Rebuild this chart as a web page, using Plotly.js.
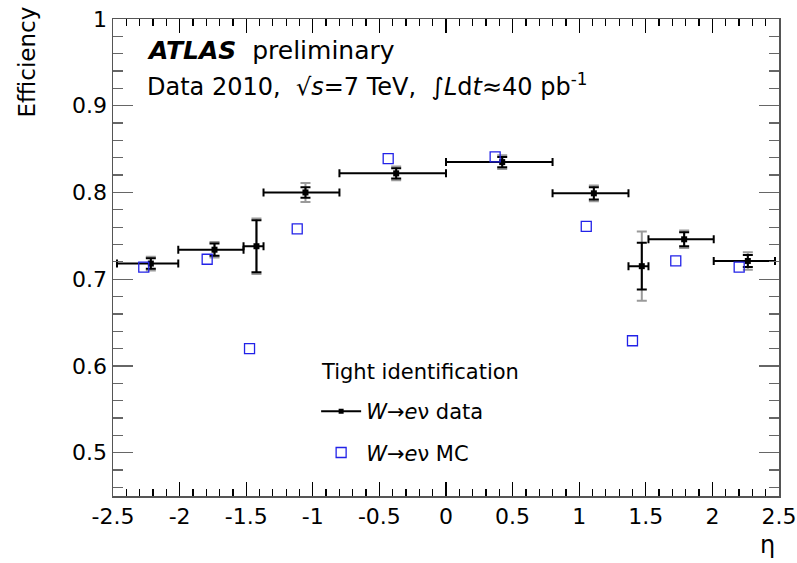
<!DOCTYPE html>
<html>
<head>
<meta charset="utf-8">
<script src="https://cdn.plot.ly/plotly-3.0.1.min.js"></script>
<style>body{margin:0;background:#fff;} #chart{width:797px;height:563px;}</style>
</head>
<body>
<div id="chart"></div>
<script>
// Bin edges in eta
const binLow  = [-2.47, -2.01, -1.52, -1.37, -0.80, 0.00, 0.80, 1.37, 1.52, 2.01];
const binHigh = [-2.01, -1.52, -1.37, -0.80, 0.00, 0.80, 1.37, 1.52, 2.01, 2.47];
// Data (W->e nu) points
const dataEta = [-2.216, -1.738, -1.423, -1.055, -0.374, 0.422, 1.110, 1.470, 1.788, 2.266];
const dataEff = [0.718, 0.734, 0.738, 0.800, 0.822, 0.835, 0.799, 0.715, 0.746, 0.721];
const dataStat = [0.006, 0.007, 0.030, 0.006, 0.006, 0.006, 0.007, 0.027, 0.008, 0.007];
const dataTot  = [0.008, 0.009, 0.032, 0.011, 0.008, 0.008, 0.009, 0.040, 0.010, 0.010];
// MC points
const mcEta = [-2.269, -1.793, -1.475, -1.117, -0.434, 0.369, 1.053, 1.400, 1.725, 2.201];
const mcEff = [0.714, 0.723, 0.620, 0.758, 0.839, 0.841, 0.761, 0.629, 0.721, 0.714];
// Tick labels
const xTickVals = [-2.5, -2, -1.5, -1, -0.5, 0, 0.5, 1, 1.5, 2, 2.5];
const xTickText = ['-2.5', '-2', '-1.5', '-1', '-0.5', '0', '0.5', '1', '1.5', '2', '2.5'];

const FONT = 'DejaVu Sans';
const exPlus = dataEta.map((x, i) => binHigh[i] - x);
const exMinus = dataEta.map((x, i) => x - binLow[i]);

const traces = [
  { // systematic (total) error, gray
    x: dataEta, y: dataEff, type: 'scatter', mode: 'markers',
    marker: {size: 1, color: 'rgba(0,0,0,0)'},
    error_y: {type: 'data', array: dataTot, visible: true, color: '#9a9a9a', thickness: 2, width: 5},
    showlegend: false, hoverinfo: 'skip'
  },
  { // data with stat errors
    x: dataEta, y: dataEff, type: 'scatter', mode: 'markers',
    marker: {size: 6, color: 'black', symbol: 'square'},
    error_x: {type: 'data', symmetric: false, array: exPlus, arrayminus: exMinus, visible: true, color: 'black', thickness: 2, width: 4},
    error_y: {type: 'data', array: dataStat, visible: true, color: 'black', thickness: 2, width: 5},
    showlegend: false
  },
  { // MC
    x: mcEta, y: mcEff, type: 'scatter', mode: 'markers',
    name: '<i>W</i>\u2192<i>e</i>\u03bd MC',
    marker: {size: 10, color: '#2222e8', symbol: 'square-open', line: {color: '#2222e8', width: 1.3}},
    legendgroup: 'b', legendrank: 2, showlegend: true
  },
  { // legend entry for data
    x: [null], y: [null], type: 'scatter', mode: 'lines+markers',
    name: '<i>W</i>\u2192<i>e</i>\u03bd data',
    line: {color: 'black', width: 2},
    marker: {size: 5, color: 'black', symbol: 'square'},
    legendgroup: 'a', legendrank: 1, showlegend: true
  }
];

const layout = {
  width: 797, height: 563,
  margin: {l: 113, r: 18, t: 19, b: 67},
  paper_bgcolor: 'white', plot_bgcolor: 'white',
  font: {family: FONT, color: 'black', size: 22},
  showlegend: true,
  legend: {
    x: 0.305, y: 0.220, xanchor: 'left', yanchor: 'top',
    bgcolor: 'rgba(0,0,0,0)', borderwidth: 0,
    font: {family: FONT, size: 21, color: 'black'},
    itemwidth: 40,
    traceorder: 'grouped', tracegroupgap: 11
  },
  xaxis: {
    range: [-2.5, 2.5], tickmode: 'array', tickvals: xTickVals, ticktext: xTickText,
    ticks: 'inside', ticklen: 14, tickwidth: 1.3, tickcolor: 'black',
    minor: {dtick: 0.1, tick0: 0, ticks: 'inside', ticklen: 7, tickwidth: 1.3, tickcolor: 'black', showgrid: false},
    showline: true, linecolor: '#555', linewidth: 1.5, mirror: 'ticks',
    showgrid: false, zeroline: false,
    tickfont: {family: FONT, size: 22, color: 'black'}, ticklabelstandoff: 0
  },
  yaxis: {
    range: [0.45, 1.0], dtick: 0.1, tick0: 0,
    ticks: 'inside', ticklen: 20, tickwidth: 1.3, tickcolor: '#666',
    minor: {dtick: 0.02, tick0: 0, ticks: 'inside', ticklen: 10, tickwidth: 1.3, tickcolor: '#666', showgrid: false},
    showline: true, linecolor: '#555', linewidth: 1.5, mirror: 'ticks',
    showgrid: false, zeroline: false,
    tickfont: {family: FONT, size: 22, color: 'black'}, ticklabelstandoff: 0
  },
  annotations: [
    {xref: 'paper', yref: 'paper', x: 0.048, y: 0.935, xanchor: 'left', yanchor: 'middle', showarrow: false,
     text: '<b><i>ATLAS</i></b>  preliminary', font: {family: FONT, size: 25, color: 'black'}},
    {xref: 'paper', yref: 'paper', x: 0.048, y: 0.862, xanchor: 'left', yanchor: 'middle', showarrow: false,
     text: 'Data 2010,  \u221a<i>s</i>=7 TeV,  \u222b<i>L</i>d<i>t</i>\u224840 pb<sup>-1</sup>', font: {family: FONT, size: 24, color: 'black'}},
    {xref: 'paper', yref: 'paper', x: 0.310, y: 0.259, xanchor: 'left', yanchor: 'middle', showarrow: false,
     text: 'Tight identification', font: {family: FONT, size: 21, color: 'black'}},
    {xref: 'paper', yref: 'paper', x: -0.129, y: 0.909, xanchor: 'center', yanchor: 'middle', showarrow: false, textangle: -90,
     text: 'Efficiency', font: {family: FONT, size: 23, color: 'black'}},
    {xref: 'paper', yref: 'paper', x: 0.982, y: -0.103, xanchor: 'center', yanchor: 'middle', showarrow: false,
     text: '\u03b7', font: {family: FONT, size: 24, color: 'black'}}
  ]
};

Plotly.newPlot('chart', traces, layout, {staticPlot: true, displayModeBar: false});
</script>
</body>
</html>
